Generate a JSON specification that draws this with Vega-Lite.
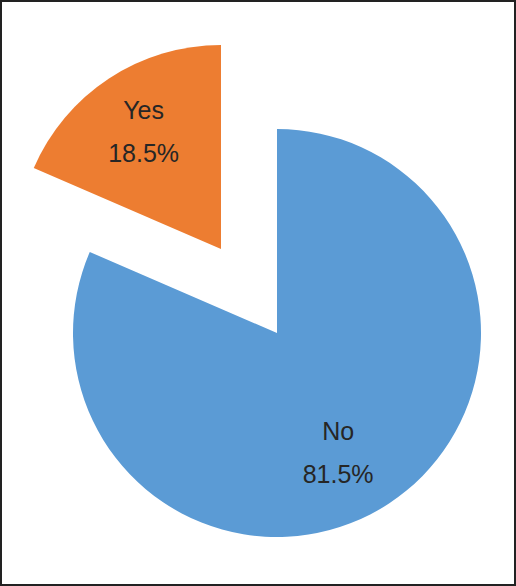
{
  "$schema": "https://vega.github.io/schema/vega-lite/v6.json",
  "width": 516,
  "height": 586,
  "padding": 0,
  "autosize": {"type": "fit", "contains": "padding"},
  "background": "#ffffff",
  "view": {"stroke": "#222222", "strokeWidth": 4, "fill": "#ffffff"},
  "data": {"values": [
    {"answer": "No", "value": 81.5, "order": 1},
    {"answer": "Yes", "value": 18.5, "order": 2}
  ]},
  "transform": [
    {"stack": "value", "groupby": [], "sort": [{"field": "order", "order": "ascending"}], "as": ["v0", "v1"]},
    {"calculate": "(datum.v0 + datum.v1) / 2", "as": "mid"},
    {"calculate": "[datum.answer, datum.value + '%']", "as": "label"}
  ],
  "encoding": {
    "color": {"field": "answer", "type": "nominal", "scale": {"domain": ["No", "Yes"], "range": ["#5B9BD5", "#ED7D31"]}, "legend": null}
  },
  "layer": [
    {
      "transform": [{"filter": "datum.answer == 'No'"}],
      "mark": {"type": "arc", "radius": 204, "xOffset": 19, "yOffset": 40},
      "encoding": {
        "theta": {"field": "v0", "type": "quantitative", "scale": {"domain": [0, 100], "range": [0, 6.283185307179586]}},
        "theta2": {"field": "v1"}
      }
    },
    {
      "transform": [{"filter": "datum.answer == 'Yes'"}],
      "mark": {"type": "arc", "radius": 204, "xOffset": -37, "yOffset": -44},
      "encoding": {
        "theta": {"field": "v0", "type": "quantitative"},
        "theta2": {"field": "v1"}
      }
    },
    {
      "transform": [{"filter": "datum.answer == 'No'"}],
      "mark": {"type": "text", "radius": 135, "xOffset": 6, "yOffset": 26, "font": "Liberation Sans", "fontSize": 25, "lineHeight": 43, "baseline": "middle", "align": "center", "color": "#262626"},
      "encoding": {
        "theta": {"field": "mid", "type": "quantitative"},
        "text": {"field": "label"},
        "color": {"value": "#262626"}
      }
    },
    {
      "transform": [{"filter": "datum.answer == 'Yes'"}],
      "mark": {"type": "text", "radius": 141, "xOffset": -37, "yOffset": -64, "font": "Liberation Sans", "fontSize": 25, "lineHeight": 43, "baseline": "middle", "align": "center", "color": "#262626"},
      "encoding": {
        "theta": {"field": "mid", "type": "quantitative"},
        "text": {"field": "label"},
        "color": {"value": "#262626"}
      }
    }
  ]
}
